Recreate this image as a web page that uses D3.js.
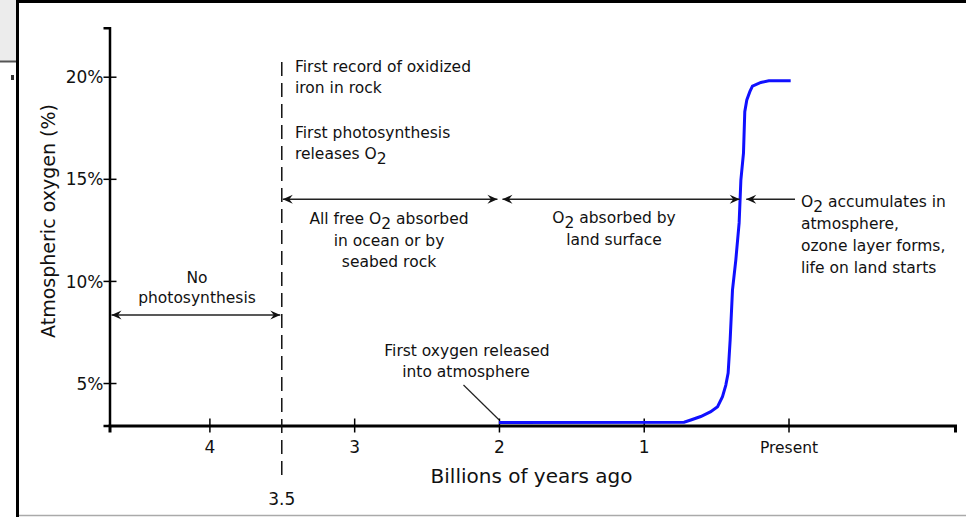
<!DOCTYPE html>
<html><head><meta charset="utf-8">
<script src="https://cdn.jsdelivr.net/npm/d3@7"></script>
<style>
body{margin:0;background:#fff;}
svg{display:block;}
text{font-family:"DejaVu Sans",sans-serif;fill:#111;}
</style>
</head><body>
<svg id="c" width="966" height="517"></svg>
<script>
// ---- data ----
const years  = [2.0, 0.721, 0.675, 0.606, 0.537, 0.490, 0.456, 0.433, 0.417, 0.403, 0.387, 0.364, 0.341, 0.329, 0.311, 0.302, 0.288, 0.267, 0.249, 0.191, 0.136, -0.015];
const oxygen = [3.07, 3.08, 3.19, 3.36, 3.60, 3.84, 4.33, 4.90, 5.49, 7.11, 9.55, 11.02, 12.84, 14.94, 16.26, 18.29, 18.86, 19.27, 19.54, 19.72, 19.80, 19.80];
const yTicks = [5, 10, 15, 20];
const xTicks = [4, 3, 2, 1, 0];
const xTickLabels = ["4", "3", "2", "1", "Present"];
const photosynthesisStart = 3.5;
const firstOxygen = 2.0;
const accumulationStart = 0.33;

const svg = d3.select("#c");
const FS = 15.5;

// frame
svg.append("rect").attr("x",0).attr("y",0).attr("width",16).attr("height",61).attr("fill","#ececec");
svg.append("line").attr("x1",0).attr("x2",16).attr("y1",61.5).attr("y2",61.5).attr("stroke","#555").attr("stroke-width",2);
svg.append("rect").attr("x",11).attr("y",75).attr("width",3).attr("height",5).attr("fill","#333");
svg.append("rect").attr("x",16).attr("y",0).attr("width",950).attr("height",3).attr("fill","#000");
svg.append("rect").attr("x",16).attr("y",0).attr("width",3).attr("height",517).attr("fill","#000");
svg.append("line").attr("x1",19).attr("x2",966).attr("y1",515.5).attr("y2",515.5).attr("stroke","#aaa").attr("stroke-width",1.5);

// scales
const x = d3.scaleLinear().domain([4.69, -1.15]).range([109.5, 955]);
const y = d3.scaleLinear().domain([2.92, 22.4]).range([425.5, 27.7]);

// y axis
const gy = svg.append("g").attr("transform", `translate(${x(4.69)},0)`)
  .call(d3.axisLeft(y).tickValues(yTicks).tickSizeOuter(0).tickSize(6).tickFormat(d => d + "%"));
gy.select(".domain").attr("stroke","#000").attr("stroke-width",2.5);
gy.selectAll(".tick line").attr("x1",7).attr("x2",-6).attr("stroke","#000").attr("stroke-width",1.5);
gy.selectAll(".tick text").attr("x",-6).attr("dy","0.36em").attr("font-size",17).style("font-family","DejaVu Sans").attr("fill","#111");

// x axis
const gx = svg.append("g").attr("transform", `translate(0,${y(2.92)})`)
  .call(d3.axisBottom(x).tickValues(xTicks).tickSizeOuter(0).tickSize(7).tickFormat((d,i) => xTickLabels[i]));
gx.select(".domain").attr("stroke","#000").attr("stroke-width",3);
gx.selectAll(".tick line").attr("y1",-7).attr("y2",7).attr("stroke","#000").attr("stroke-width",1.5);
gx.selectAll(".tick text").attr("y",27.5).attr("dy",0).style("font-family","DejaVu Sans").attr("fill","#111")
  .attr("font-size",(d,i) => i === 4 ? FS : 17);

// axis titles
svg.append("text").attr("transform","translate(54.5,221) rotate(-90)").attr("text-anchor","middle")
  .attr("font-size",19).text("Atmospheric oxygen (%)");
svg.append("text").attr("x",531.5).attr("y",483).attr("text-anchor","middle")
  .attr("font-size",20).text("Billions of years ago");

// dashed line at 3.5
svg.append("line").attr("x1",x(photosynthesisStart)).attr("x2",x(photosynthesisStart))
  .attr("y1",62).attr("y2",478).attr("stroke","#111").attr("stroke-width",1.5).attr("stroke-dasharray","14,7");
svg.append("text").attr("x",x(photosynthesisStart)).attr("y",505).attr("text-anchor","middle")
  .attr("font-size",17).text("3.5");

// curve
const line = d3.line().x(d => x(d[0])).y(d => y(d[1]));
svg.append("path").datum(years.map((v,i) => [v, oxygen[i]]))
  .attr("d", line).attr("fill","none").attr("stroke","#1010ff").attr("stroke-width",3);

// arrows
function head(tx, ty, dir){
  svg.append("path").attr("d",
    `M${tx},${ty} L${tx-dir*10},${ty-4.5} L${tx-dir*6.5},${ty} L${tx-dir*10},${ty+4.5} Z`).attr("fill","#111");
}
function darrow(x1, x2, yy, leftHead=true, rightHead=true){
  svg.append("line").attr("x1",x1).attr("x2",x2).attr("y1",yy).attr("y2",yy).attr("stroke","#222").attr("stroke-width",1.5);
  if (leftHead) head(x1, yy, -1);
  if (rightHead) head(x2, yy, 1);
}
const yA = y(14);
darrow(x(photosynthesisStart)+1, x(firstOxygen)-1.5, yA);
darrow(x(firstOxygen)+3.5, x(accumulationStart)-1, yA);
darrow(x(accumulationStart)+5.5, 795, yA, true, false);
darrow(x(4.69)+2, x(photosynthesisStart)-1.5, y(8.33));

// leader line
svg.append("line").attr("x1",463.5).attr("y1",385).attr("x2",x(firstOxygen)).attr("y2",y(3.2))
  .attr("stroke","#222").attr("stroke-width",1.2);

// text helpers
function txt(xx, yy, parts, anchor="start"){
  const t = svg.append("text").attr("x",xx).attr("y",yy).attr("text-anchor",anchor).attr("font-size",FS);
  parts.forEach(p => {
    if (typeof p === "string") t.append("tspan").text(p);
    else { t.append("tspan").attr("dy",4.5).text(p.sub); t.append("tspan").attr("dy",-4.5).text(p.after); }
  });
}
txt(295, 72, ["First record of oxidized"]);
txt(295, 93, ["iron in rock"]);
txt(295, 138, ["First photosynthesis"]);
txt(295, 159, ["releases O", {sub:"2", after:""}]);
txt(389, 224, ["All free O", {sub:"2", after:" absorbed"}], "middle");
txt(389, 246, ["in ocean or by"], "middle");
txt(389, 267, ["seabed rock"], "middle");
txt(614, 223, ["O", {sub:"2", after:" absorbed by"}], "middle");
txt(614, 245, ["land surface"], "middle");
txt(801, 207, ["O", {sub:"2", after:" accumulates in"}]);
txt(801, 229, ["atmosphere,"]);
txt(801, 251, ["ozone layer forms,"]);
txt(801, 273, ["life on land starts"]);
txt(197, 283, ["No"], "middle");
txt(197, 303, ["photosynthesis"], "middle");
txt(467, 356, ["First oxygen released"], "middle");
txt(466, 377, ["into atmosphere"], "middle");
</script>
</body></html>
